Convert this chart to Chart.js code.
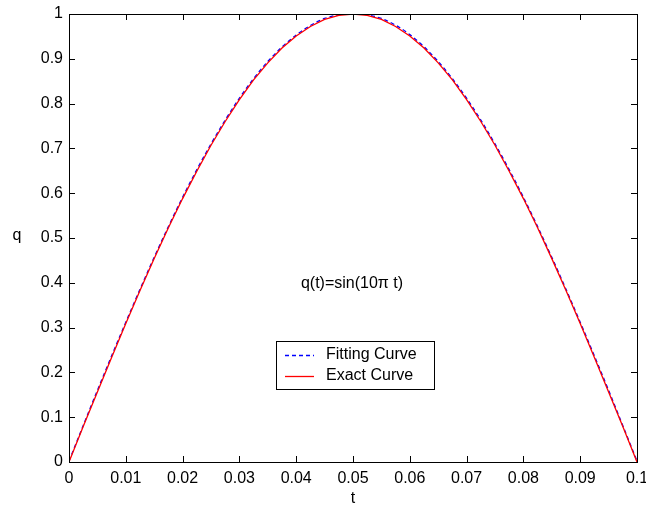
<!DOCTYPE html>
<html>
<head>
<meta charset="utf-8">
<script src="https://cdn.jsdelivr.net/npm/chart.js@4/dist/chart.umd.min.js"></script>
<style>
  html, body { margin: 0; padding: 0; background: #fff; }
  #wrap { width: 646px; height: 510px; position: relative; }
</style>
</head>
<body>
<div id="wrap"><canvas id="c"></canvas></div>
<script>
// Time samples (s) and joint position q for the exact trajectory
const tExact = [0, 0.0025, 0.005, 0.0075, 0.01, 0.0125, 0.015, 0.0175, 0.02, 0.0225,
  0.025, 0.0275, 0.03, 0.0325, 0.035, 0.0375, 0.04, 0.0425, 0.045, 0.0475,
  0.05, 0.0525, 0.055, 0.0575, 0.06, 0.0625, 0.065, 0.0675, 0.07, 0.0725,
  0.075, 0.0775, 0.08, 0.0825, 0.085, 0.0875, 0.09, 0.0925, 0.095, 0.0975, 0.1];
const qExact = [0, 0.079, 0.156, 0.233, 0.309, 0.383, 0.454, 0.523, 0.588, 0.649,
  0.707, 0.760, 0.809, 0.853, 0.891, 0.924, 0.951, 0.972, 0.988, 0.997,
  1.000, 0.997, 0.988, 0.972, 0.951, 0.924, 0.891, 0.853, 0.809, 0.760,
  0.707, 0.649, 0.588, 0.523, 0.454, 0.383, 0.309, 0.233, 0.156, 0.079, 0];

// Fitted trajectory samples
const tFit = [0, 0.005, 0.01, 0.015, 0.02, 0.025, 0.03, 0.035, 0.04, 0.045, 0.05,
  0.055, 0.06, 0.065, 0.07, 0.075, 0.08, 0.085, 0.09, 0.095, 0.1];
const qFit = [0.002, 0.160, 0.312, 0.457, 0.591, 0.710, 0.812, 0.894, 0.953, 0.990, 1.001,
  0.990, 0.954, 0.894, 0.812, 0.710, 0.591, 0.457, 0.312, 0.160, 0.002];

const xTicks = [0, 0.01, 0.02, 0.03, 0.04, 0.05, 0.06, 0.07, 0.08, 0.09, 0.1];
const yTicks = [0, 0.1, 0.2, 0.3, 0.4, 0.5, 0.6, 0.7, 0.8, 0.9, 1];

const seriesNames = ['Fitting Curve', 'Exact Curve'];
const noteText = 'q(t)=sin(10\u03c0 t)';
const xTitle = 't';
const yTitle = 'q';

const FONT = '"Liberation Sans", Arial, sans-serif';
const FSIZE = 16;

const toPts = (xs, ys) => xs.map((x, i) => ({ x: x, y: ys[i] }));

// Box frame, inward ticks on all four sides, axis titles, note and legend
const framePlugin = {
  id: 'frame',
  afterDraw(chart) {
    const { ctx, chartArea: a, scales } = chart;
    const xs = scales.x, ys = scales.y;
    const L = 6;
    ctx.save();
    ctx.strokeStyle = '#000';
    ctx.lineWidth = 1;
    ctx.strokeRect(Math.round(a.left) + 0.5, Math.round(a.top) + 0.5,
      Math.round(a.right - a.left), Math.round(a.bottom - a.top));
    ctx.beginPath();
    xTicks.forEach(v => {
      const px = Math.round(xs.getPixelForValue(v)) + 0.5;
      ctx.moveTo(px, a.bottom); ctx.lineTo(px, a.bottom - L);
      ctx.moveTo(px, a.top); ctx.lineTo(px, a.top + L);
    });
    yTicks.forEach(v => {
      const py = Math.round(ys.getPixelForValue(v)) + 0.5;
      ctx.moveTo(a.left, py); ctx.lineTo(a.left + L, py);
      ctx.moveTo(a.right, py); ctx.lineTo(a.right - L, py);
    });
    ctx.stroke();

    ctx.fillStyle = '#000';
    ctx.font = FSIZE + 'px ' + FONT;
    ctx.textAlign = 'center';
    ctx.textBaseline = 'middle';
    ctx.fillText(xTitle, (a.left + a.right) / 2, 499);
    ctx.fillText(yTitle, 17, 236);

    // annotation
    ctx.fillText(noteText, xs.getPixelForValue(0.05) - 1, ys.getPixelForValue(0.4) + 1);

    // legend box
    const bx = 276, by = 341, bw = 158, bh = 48;
    ctx.fillStyle = '#fff';
    ctx.fillRect(bx, by, bw, bh);
    ctx.strokeStyle = '#000';
    ctx.strokeRect(bx + 0.5, by + 0.5, bw, bh);
    const rows = [
      { y: 355, color: '#0000ff', dash: [4, 3], w: 1.5 },
      { y: 376, color: '#ff0000', dash: [], w: 1.3 }
    ];
    rows.forEach((r, i) => {
      ctx.beginPath();
      ctx.setLineDash(r.dash);
      ctx.strokeStyle = r.color;
      ctx.lineWidth = r.w;
      ctx.moveTo(285, r.y + 0.5); ctx.lineTo(314, r.y + 0.5);
      ctx.stroke();
      ctx.setLineDash([]);
      ctx.fillStyle = '#000';
      ctx.textAlign = 'left';
      ctx.fillText(seriesNames[i], 326, r.y);
    });
    ctx.restore();
  }
};

new Chart(document.getElementById('c'), {
  type: 'line',
  data: {
    datasets: [
      {
        label: seriesNames[0],
        data: toPts(tFit, qFit),
        borderColor: '#0000ff',
        borderWidth: 1.3,
        borderDash: [4, 3],
        pointRadius: 0,
        cubicInterpolationMode: 'monotone',
        order: 2
      },
      {
        label: seriesNames[1],
        data: toPts(tExact, qExact),
        borderColor: '#ff0000',
        borderWidth: 1.3,
        pointRadius: 0,
        tension: 0,
        order: 1
      }
    ]
  },
  options: {
    responsive: true,
    maintainAspectRatio: false,
    animation: false,
    layout: { padding: { top: 14, right: 9, left: 0, bottom: 0 } },
    plugins: { legend: { display: false }, tooltip: { enabled: false } },
    scales: {
      x: {
        type: 'linear',
        min: 0, max: 0.1,
        afterFit(s) { s.height = 48; s.paddingLeft = 0; s.paddingRight = 0; },
        afterBuildTicks(s) { s.ticks = xTicks.map(v => ({ value: v })); },
        grid: { display: false, drawTicks: false },
        border: { display: false },
        ticks: {
          color: '#000',
          font: { family: FONT, size: FSIZE },
          padding: 7,
          maxRotation: 0,
          autoSkip: false,
          callback: v => String(Number(v.toFixed(2)))
        }
      },
      y: {
        type: 'linear',
        min: 0, max: 1,
        afterFit(s) { s.width = 69; s.paddingTop = 0; s.paddingBottom = 0; },
        afterBuildTicks(s) { s.ticks = yTicks.map(v => ({ value: v })); },
        grid: { display: false, drawTicks: false },
        border: { display: false },
        ticks: {
          color: '#000',
          font: { family: FONT, size: FSIZE },
          padding: 6,
          autoSkip: false,
          callback: v => String(Number(v.toFixed(1)))
        }
      }
    }
  },
  plugins: [framePlugin]
});
</script>
</body>
</html>
